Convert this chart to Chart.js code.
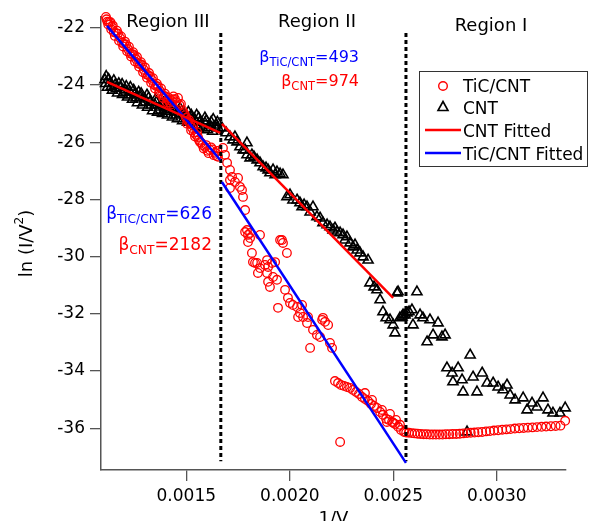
<!DOCTYPE html>
<html lang="en">
<head>
<meta charset="UTF-8">
<title>ln(I/V²) vs 1/V</title>
<script src="https://cdn.jsdelivr.net/npm/chart.js"></script>
<style>
  html, body { margin: 0; padding: 0; background: #fff; }
  canvas { display: block; }
</style>
</head>
<body>
<canvas id="fnChart" width="590" height="521"></canvas>
<script>
// TiC/CNT measured points [1/V, ln(I/V^2)], split by region
const ticCntRegion3 = [
  [0.001112,-21.62],[0.001119,-21.78],[0.001127,-21.79],[0.001134,-21.80],[0.001141,-21.97],[0.001150,-22.15],
  [0.001160,-22.18],[0.001170,-22.20],[0.001180,-22.35],[0.001190,-22.52],[0.001199,-22.56],[0.001209,-22.58],
  [0.001218,-22.74],[0.001228,-22.90],[0.001238,-22.91],[0.001247,-22.95],[0.001257,-23.09],[0.001267,-23.25],
  [0.001276,-23.26],[0.001286,-23.30],[0.001296,-23.47],[0.001305,-23.62],[0.001315,-23.65],[0.001325,-23.70],
  [0.001334,-23.82],[0.001344,-23.98],[0.001354,-24.03],[0.001363,-24.05],[0.001373,-24.21],[0.001383,-24.35],
  [0.001392,-24.38],[0.001402,-24.40],[0.001412,-24.52],[0.001421,-24.62],[0.001431,-24.56],[0.001438,-24.40],
  [0.001445,-24.49],[0.001452,-24.60],[0.001460,-24.45],[0.001467,-24.70],[0.001474,-24.66],[0.001482,-24.88],
  [0.001489,-24.98],[0.001499,-25.15],[0.001508,-25.26],[0.001518,-25.35],[0.001528,-25.50],[0.001537,-25.66],
  [0.001547,-25.74],[0.001556,-25.82],[0.001566,-25.99],[0.001578,-26.10],[0.001590,-26.16],[0.001602,-26.30],
  [0.001614,-26.27],[0.001627,-26.25],[0.001639,-26.37],[0.001646,-26.48],[0.001653,-26.51],
  [0.001115,-21.70],[0.001123,-21.88],[0.001137,-22.05],[0.001145,-21.92],[0.001155,-22.28],[0.001165,-22.10],
  [0.001175,-22.45],[0.001185,-22.30],[0.001195,-22.65],[0.001204,-22.48],[0.001214,-22.82],[0.001223,-22.66],
  [0.001233,-23.00],[0.001243,-22.85],[0.001252,-23.18],[0.001262,-23.02],[0.001272,-23.36],[0.001281,-23.20],
  [0.001291,-23.55],[0.001300,-23.38],[0.001310,-23.74],[0.001320,-23.58],[0.001330,-23.92],[0.001339,-23.76],
  [0.001349,-24.12],[0.001358,-23.95],[0.001368,-24.28],[0.001378,-24.12],[0.001388,-24.45],[0.001397,-24.30],
  [0.001407,-24.60],[0.001416,-24.45],[0.001426,-24.68],[0.001435,-24.50],[0.001494,-25.05],[0.001504,-25.35],
  [0.001513,-25.22],[0.001523,-25.58],[0.001533,-25.42],[0.001542,-25.80],[0.001552,-25.65],[0.001561,-25.92],
  [0.001572,-26.02],[0.001584,-26.22],[0.001596,-26.10],[0.001608,-26.38],[0.001620,-26.18],[0.001633,-26.45],
  [0.001650,-26.30]
];
const ticCntRegion2 = [
  [0.001677,-26.20],[0.001687,-26.44],[0.001697,-26.72],[0.001711,-26.97],[0.001711,-27.32],[0.001711,-27.60],
  [0.001721,-27.21],[0.001735,-27.39],[0.001750,-27.25],[0.001759,-27.56],[0.001769,-27.67],[0.001774,-27.91],
  [0.001784,-28.37],[0.001784,-29.14],[0.001793,-29.07],[0.001798,-29.24],[0.001798,-29.49],[0.001808,-29.17],
  [0.001808,-29.35],[0.001817,-29.87],[0.001822,-30.19],[0.001832,-30.22],[0.001842,-30.22],[0.001846,-30.57],
  [0.001856,-29.24],[0.001856,-30.40],[0.001880,-30.29],[0.001890,-30.12],[0.001890,-30.57],[0.001895,-30.36],
  [0.001895,-30.88],[0.001904,-31.06],[0.001914,-30.22],[0.001919,-30.71],[0.001929,-30.19],[0.001938,-30.81],
  [0.001943,-31.79],[0.001953,-29.42],[0.001962,-29.42],[0.001967,-29.52],[0.001977,-31.16],[0.001986,-29.87],
  [0.001991,-31.44],[0.002001,-31.62],[0.002015,-31.69],[0.002035,-31.76],[0.002040,-32.11],[0.002049,-31.97],
  [0.002059,-31.69],[0.002064,-32.11],[0.002083,-32.32],[0.002088,-32.11],[0.002098,-33.19],[0.002112,-32.56],
  [0.002131,-32.74],[0.002146,-32.81],[0.002156,-32.21],[0.002160,-32.14],[0.002170,-32.28],[0.002185,-32.39],
  [0.002194,-33.02],[0.002204,-33.19],[0.002218,-34.35],[0.002233,-34.42],[0.002243,-36.48],[0.002247,-34.49],
  [0.002262,-34.52],[0.002276,-34.56],[0.002291,-34.59],[0.002305,-34.66],[0.002320,-34.73],[0.002334,-34.80],
  [0.002349,-34.91],[0.002363,-34.77],[0.002363,-34.98],[0.002378,-35.05],[0.002392,-35.15],[0.002397,-35.01],
  [0.002407,-35.22],[0.002421,-35.29],[0.002436,-35.43],[0.002445,-35.36],[0.002450,-35.53],[0.002465,-35.67],
  [0.002469,-35.78],[0.002479,-35.71],[0.002484,-35.50],[0.002494,-35.78],[0.002499,-35.81],[0.002508,-35.85],
  [0.002513,-35.71],[0.002523,-35.95],[0.002532,-35.88],[0.002537,-36.06],[0.002552,-36.13]
];
const ticCntRegion1 = [
  [0.002562,-36.15],[0.002575,-36.16],[0.002589,-36.17],[0.002603,-36.18],[0.002617,-36.19],[0.002631,-36.20],
  [0.002646,-36.21],[0.002661,-36.21],[0.002676,-36.22],[0.002691,-36.22],[0.002706,-36.22],[0.002722,-36.22],
  [0.002738,-36.22],[0.002754,-36.21],[0.002770,-36.21],[0.002787,-36.20],[0.002804,-36.20],[0.002821,-36.19],
  [0.002838,-36.18],[0.002856,-36.17],[0.002874,-36.16],[0.002892,-36.15],[0.002910,-36.14],[0.002929,-36.13],
  [0.002948,-36.11],[0.002967,-36.10],[0.002986,-36.08],[0.003006,-36.07],[0.003026,-36.05],[0.003046,-36.04],
  [0.003066,-36.03],[0.003087,-36.01],[0.003108,-36.00],[0.003129,-35.99],[0.003150,-35.98],[0.003172,-35.97],
  [0.003194,-35.96],[0.003216,-35.95],[0.003238,-35.94],[0.003261,-35.93],[0.003284,-35.92],[0.003307,-35.91],
  [0.003330,-35.74]
];

// CNT measured points
const cntRegion3 = [
  [0.001107,-23.82],[0.001131,-23.93],[0.001156,-24.00],[0.001180,-24.10],[0.001204,-24.17],[0.001228,-24.24],
  [0.001252,-24.31],[0.001276,-24.42],[0.001300,-24.49],[0.001325,-24.59],[0.001349,-24.70],[0.001373,-24.77],
  [0.001397,-24.80],[0.001421,-24.87],[0.001445,-24.94],[0.001470,-25.01],[0.001494,-25.08],[0.001518,-25.15],
  [0.001542,-25.22],[0.001566,-25.29],[0.001590,-25.33],[0.001614,-25.40],[0.001639,-25.47],[0.001653,-25.50],
  [0.001119,-24.08],[0.001143,-24.18],[0.001168,-24.28],[0.001192,-24.33],[0.001216,-24.42],[0.001240,-24.50],
  [0.001264,-24.62],[0.001288,-24.70],[0.001313,-24.78],[0.001337,-24.90],[0.001361,-24.95],[0.001385,-25.00],
  [0.001409,-25.05],[0.001433,-25.12],[0.001457,-25.18],[0.001482,-25.25],[0.001506,-25.30],[0.001530,-25.38],
  [0.001554,-25.45],[0.001578,-25.50],[0.001602,-25.56],[0.001627,-25.62],
  [0.001113,-23.70],[0.001150,-23.85],[0.001190,-23.98],[0.001230,-24.08],[0.001270,-24.25],[0.001310,-24.35],
  [0.001350,-24.52],[0.001390,-24.62],[0.001430,-24.70],[0.001470,-24.82],[0.001510,-24.95],[0.001550,-25.05],
  [0.001590,-25.15],[0.001630,-25.20],[0.001650,-25.30],
  [0.001110,-23.95],[0.001125,-23.80],[0.001138,-24.05],[0.001162,-24.12],[0.001174,-23.95],[0.001198,-24.25],
  [0.001210,-24.05],[0.001222,-24.35],[0.001246,-24.18],[0.001258,-24.45],[0.001282,-24.30],[0.001294,-24.60],
  [0.001318,-24.45],[0.001331,-24.70],[0.001355,-24.60],[0.001367,-24.88],[0.001379,-24.68],[0.001403,-24.92],
  [0.001415,-24.75],[0.001439,-24.82],[0.001451,-25.05],[0.001463,-24.90],[0.001488,-24.98],[0.001500,-25.18],
  [0.001524,-25.05],[0.001536,-25.30],[0.001560,-25.15],[0.001572,-25.40],[0.001596,-25.25],[0.001608,-25.48],
  [0.001620,-25.30],[0.001645,-25.40]
];
const cntRegion2 = [
  [0.001672,-25.50],[0.001692,-25.67],[0.001711,-25.81],[0.001726,-25.92],[0.001735,-25.81],[0.001745,-25.99],
  [0.001759,-26.16],[0.001774,-26.27],[0.001784,-26.27],[0.001793,-26.02],[0.001793,-26.44],[0.001808,-26.55],
  [0.001817,-26.44],[0.001827,-26.51],[0.001842,-26.62],[0.001856,-26.72],[0.001871,-26.86],[0.001885,-26.90],
  [0.001895,-26.97],[0.001904,-27.07],[0.001919,-26.97],[0.001929,-27.14],[0.001938,-27.04],[0.001953,-27.11],
  [0.001967,-27.14],[0.001986,-27.91],[0.002001,-27.84],[0.002015,-28.02],[0.002035,-28.02],[0.002049,-28.12],
  [0.002059,-28.26],[0.002069,-28.19],[0.002083,-28.26],[0.002098,-28.44],[0.002112,-28.26],[0.002131,-28.61],
  [0.002146,-28.65],[0.002160,-28.82],[0.002180,-28.89],[0.002194,-28.96],[0.002209,-29.07],[0.002218,-29.00],
  [0.002228,-29.14],[0.002243,-29.17],[0.002257,-29.24],[0.002266,-29.42],[0.002276,-29.31],[0.002291,-29.52],
  [0.002305,-29.66],[0.002315,-29.59],[0.002325,-29.77],[0.002339,-29.87],[0.002354,-30.01],[0.002378,-30.12],
  [0.002387,-30.92],[0.002407,-31.06],[0.002421,-31.16],[0.002436,-31.51],[0.002450,-31.93],[0.002465,-32.14],
  [0.002484,-32.21],[0.002499,-32.39],[0.002508,-32.67],[0.002518,-31.27]
];
const cntRegion1 = [
  [0.002523,-31.23],[0.002532,-32.14],[0.002542,-32.11],[0.002547,-32.04],[0.002557,-32.04],[0.002566,-31.97],
  [0.002576,-31.93],[0.002590,-31.86],[0.002595,-32.39],[0.002614,-31.23],[0.002629,-32.04],[0.002643,-32.14],
  [0.002663,-32.98],[0.002677,-32.21],[0.002692,-32.74],[0.002716,-32.32],[0.002735,-32.81],[0.002750,-32.74],
  [0.002759,-33.89],[0.002784,-34.07],[0.002788,-34.38],[0.002813,-33.89],[0.002832,-34.31],[0.002837,-34.73],
  [0.002856,-36.13],[0.002871,-33.44],[0.002885,-34.21],[0.002904,-34.73],[0.002929,-34.07],[0.002953,-34.42],
  [0.002982,-34.42],[0.003006,-34.56],[0.003030,-34.66],[0.003049,-34.49],[0.003064,-34.84],[0.003088,-35.01],
  [0.003127,-34.94],[0.003146,-35.36],[0.003170,-35.12],[0.003194,-35.26],[0.003223,-34.94],[0.003247,-35.36],
  [0.003271,-35.47],[0.003305,-35.47],[0.003330,-35.29]
];

// fitted lines, [start, end] per region
const cntFitRegion3 = [[0.001117,-23.89],[0.001664,-25.67]];
const cntFitRegion2 = [[0.001672,-25.36],[0.002499,-31.44]];
const ticCntFitRegion3 = [[0.001117,-21.93],[0.001664,-26.62]];
const ticCntFitRegion2 = [[0.001672,-27.39],[0.002561,-37.21]];

// region boundaries (1/V) and the span of the dotted markers
const regionBounds = [0.0016667, 0.002561];
const boundSpan = [-22.18, -37.15];

// field enhancement factors: [Region III, Region II]
const betaTicCnt = [626, 493];
const betaCnt = [2182, 974];

const xTicks = [0.0015, 0.0020, 0.0025, 0.0030];
const yTicks = [-36, -34, -32, -30, -28, -26, -24, -22];

const FONT = '"DejaVu Sans", sans-serif';
const toXY = arr => arr.map(p => ({ x: p[0], y: p[1] }));

function fitLine(points, color) {
  return {
    type: 'line', data: toXY(points), borderColor: color, borderWidth: 2.5,
    pointRadius: 0, fill: false, order: 0, clip: false
  };
}
function boundLine(x) {
  return {
    type: 'line', data: [{ x: x, y: boundSpan[0] }, { x: x, y: boundSpan[1] }],
    borderColor: '#000', borderWidth: 3, borderDash: [4, 3], pointRadius: 0, order: 1
  };
}

function drawBeta(ctx, right, base, sub, num, color, size) {
  const subSize = size * 0.72;
  ctx.font = size + 'px ' + FONT;
  const wb = ctx.measureText('β').width;
  const wn = ctx.measureText('=' + num).width;
  ctx.font = subSize + 'px ' + FONT;
  const ws = ctx.measureText(sub).width;
  const x = right - wn - ws - wb;
  ctx.fillStyle = color;
  ctx.textAlign = 'left';
  ctx.textBaseline = 'alphabetic';
  ctx.font = size + 'px ' + FONT;
  ctx.fillText('β', x, base);
  ctx.font = subSize + 'px ' + FONT;
  ctx.fillText(sub, x + wb, base + 4);
  ctx.font = size + 'px ' + FONT;
  ctx.fillText('=' + num, x + wb + ws, base);
}

const annotations = {
  id: 'annotations',
  afterDraw(chart) {
    const ctx = chart.ctx;
    const area = chart.chartArea;
    ctx.save();

    // region labels
    ctx.fillStyle = '#000';
    ctx.textAlign = 'center';
    ctx.textBaseline = 'alphabetic';
    ctx.font = '18px ' + FONT;
    ctx.fillText('Region III', 168, 27);
    ctx.fillText('Region II', 317, 27);
    ctx.fillText('Region I', 491, 31);

    // beta values
    drawBeta(ctx, 359, 62, 'TiC/CNT', betaTicCnt[1], '#0000ff', 16);
    drawBeta(ctx, 359, 86, 'CNT', betaCnt[1], '#ff0000', 16);
    drawBeta(ctx, 212, 219, 'TiC/CNT', betaTicCnt[0], '#0000ff', 17);
    drawBeta(ctx, 212, 250, 'CNT', betaCnt[0], '#ff0000', 17);

    // legend box
    ctx.strokeStyle = '#333';
    ctx.lineWidth = 1;
    ctx.strokeRect(419.5, 71.5, 168, 95);
    ctx.font = '17px ' + FONT;
    ctx.textAlign = 'left';
    ctx.fillStyle = '#000';
    ctx.beginPath();
    ctx.strokeStyle = '#ff0000';
    ctx.lineWidth = 1.4;
    ctx.arc(443, 86, 4.3, 0, Math.PI * 2);
    ctx.stroke();
    ctx.fillText('TiC/CNT', 463, 92);
    ctx.beginPath();
    ctx.strokeStyle = '#000';
    ctx.lineWidth = 1.6;
    ctx.moveTo(443, 101.5);
    ctx.lineTo(448, 110.5);
    ctx.lineTo(438, 110.5);
    ctx.closePath();
    ctx.stroke();
    ctx.fillText('CNT', 463, 114);
    ctx.lineWidth = 2.5;
    ctx.strokeStyle = '#ff0000';
    ctx.beginPath(); ctx.moveTo(425, 130); ctx.lineTo(461, 130); ctx.stroke();
    ctx.fillText('CNT Fitted', 463, 137);
    ctx.strokeStyle = '#0000ff';
    ctx.beginPath(); ctx.moveTo(425, 153); ctx.lineTo(461, 153); ctx.stroke();
    ctx.fillText('TiC/CNT Fitted', 463, 160);

    // axis titles
    ctx.fillStyle = '#000';
    ctx.textAlign = 'center';
    ctx.font = '18px ' + FONT;
    ctx.fillText('1/V', (area.left + area.right) / 2, 524);

    ctx.translate(27, (area.top + area.bottom) / 2);
    ctx.rotate(-Math.PI / 2);
    ctx.textBaseline = 'middle';
    ctx.textAlign = 'left';
    const main = 'ln (I/V';
    ctx.font = '18px ' + FONT;
    const w1 = ctx.measureText(main).width;
    const w3 = ctx.measureText(')').width;
    ctx.font = '12px ' + FONT;
    const w2 = ctx.measureText('2').width;
    let x0 = -(w1 + w2 + w3) / 2;
    ctx.font = '18px ' + FONT;
    ctx.fillText(main, x0, 0);
    ctx.font = '12px ' + FONT;
    ctx.fillText('2', x0 + w1, -7);
    ctx.font = '18px ' + FONT;
    ctx.fillText(')', x0 + w1 + w2, 0);
    ctx.restore();
  }
};

const ctx = document.getElementById('fnChart').getContext('2d');
const chart = new Chart(ctx, {
  type: 'scatter',
  data: {
    datasets: [
      fitLine(cntFitRegion3, '#ff0000'),
      fitLine(cntFitRegion2, '#ff0000'),
      fitLine(ticCntFitRegion3, '#0000ff'),
      fitLine(ticCntFitRegion2, '#0000ff'),
      boundLine(regionBounds[0]),
      boundLine(regionBounds[1]),
      {
        label: 'TiC/CNT',
        data: toXY(ticCntRegion3.concat(ticCntRegion2, ticCntRegion1)),
        pointStyle: 'circle', pointRadius: 4.3, borderWidth: 1.3,
        borderColor: '#ff0000', backgroundColor: 'rgba(0,0,0,0)', order: 2, clip: false
      },
      {
        label: 'CNT',
        data: toXY(cntRegion3.concat(cntRegion2, cntRegion1)),
        pointStyle: 'triangle', pointRadius: 5.8, borderWidth: 1.6,
        borderColor: '#000', backgroundColor: 'rgba(0,0,0,0)', order: 3, clip: false
      }
    ]
  },
  options: {
    responsive: false,
    animation: false,
    events: [],
    layout: { padding: { top: 17, right: 24, left: 0, bottom: 0 } },
    plugins: { legend: { display: false }, tooltip: { enabled: false } },
    scales: {
      x: {
        type: 'linear', min: 0.001088, max: 0.003334,
        afterFit: s => { s.height = 51; },
        afterBuildTicks: s => { s.ticks = xTicks.map(v => ({ value: v })); },
        ticks: { callback: v => v.toFixed(4), color: '#000', font: { family: FONT, size: 17 }, padding: 5, maxRotation: 0 },
        grid: { drawOnChartArea: false, tickLength: 11, color: '#555', lineWidth: 1.3 },
        border: { color: '#555', width: 1.5 }
      },
      y: {
        type: 'linear', min: -37.46, max: -21.62,
        afterFit: s => { s.width = 101; },
        afterBuildTicks: s => { s.ticks = yTicks.map(v => ({ value: v })); },
        ticks: { callback: v => String(v), color: '#000', font: { family: FONT, size: 17 }, padding: 5 },
        grid: { drawOnChartArea: false, tickLength: 11, color: '#555', lineWidth: 1.3 },
        border: { color: '#555', width: 1.5 }
      }
    }
  },
  plugins: [annotations]
});
</script>
</body>
</html>
